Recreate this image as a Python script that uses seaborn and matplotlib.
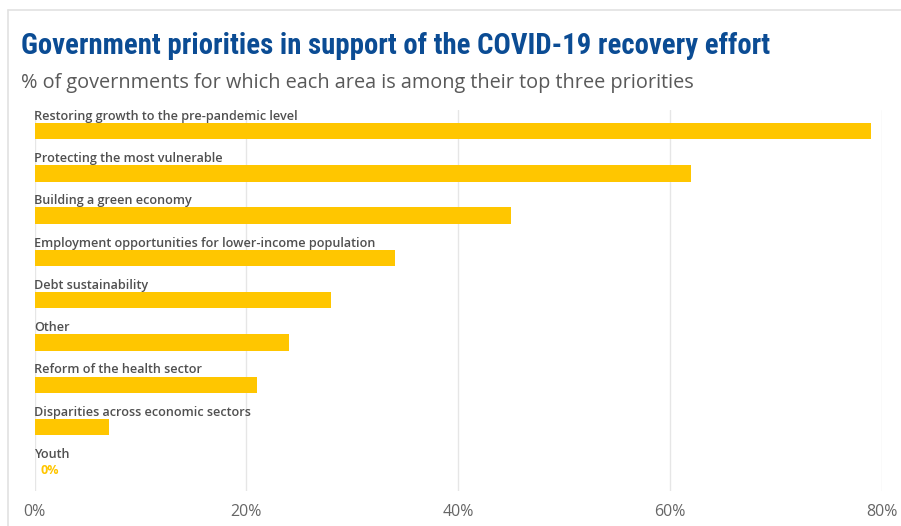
import matplotlib
matplotlib.use("Agg")
import matplotlib.pyplot as plt
from matplotlib.lines import Line2D
import pandas as pd
import seaborn as sns

# Survey results: share of governments ranking each area in their top three
categories = [
    "Restoring growth to the pre-pandemic level",
    "Protecting the most vulnerable",
    "Building a green economy",
    "Employment opportunities for lower-income population",
    "Debt sustainability",
    "Other",
    "Reform of the health sector",
    "Disparities across economic sectors",
    "Youth",
]
shares = [79, 62, 45, 34, 28, 24, 21, 7, 0]
tick_values = [0, 20, 40, 60, 80]
tick_labels = ["0%", "20%", "40%", "60%", "80%"]

TITLE = "Government priorities in support of the COVID-19 recovery effort"
SUBTITLE = "% of governments for which each area is among their top three priorities"

BAR = "#FFC600"
NAVY = "#0B4C94"
GRID = "#E6E6E6"

sns.set_theme(style="white")
plt.rcParams["font.family"] = ["Open Sans", "DejaVu Sans"]

W, H = 901, 526
fig = plt.figure(figsize=(W / 100, H / 100), dpi=100)
fig.patch.set_facecolor("white")


def fx(px):
    return px / W


def fy(py):
    return 1 - py / H


ax = fig.add_axes([fx(34.5), fy(490.5), fx(882) - fx(34.5), fy(110) - fy(490.5)])

df = pd.DataFrame({"area": categories, "share": shares})
sns.barplot(data=df, x="share", y="area", orient="h", color=BAR,
            saturation=1, width=0.39, ax=ax, edgecolor="none", zorder=3)

ax.set_xlim(0, 80)
ax.set_ylim(len(categories) - 0.5, -0.5)
ax.set_xticks(tick_values)
ax.set_xticklabels(tick_labels)
ax.set_yticks([])
ax.set_xlabel("")
ax.set_ylabel("")
for s in ax.spines.values():
    s.set_visible(False)
ax.grid(axis="x", color=GRID, linewidth=1.0, zorder=0)
ax.grid(axis="y", visible=False)
ax.tick_params(axis="x", length=0, pad=10, labelsize=11.5, labelcolor="#666666")

renderer = fig.canvas.get_renderer()

# category names sit just above their bars
labels = []
for i, (cat, val) in enumerate(zip(categories, shares)):
    labels.append(ax.text(0, i - 0.27, cat, ha="left", va="baseline",
                          fontsize=9.5, fontweight="semibold",
                          color="#505050", zorder=4))
    if val == 0:
        ax.annotate(f"{val}%", xy=(val, i), xytext=(6, -1),
                    textcoords="offset pixels", ha="left", va="center",
                    fontsize=9, fontweight="bold", color=BAR, zorder=4)

# scale category labels so the longest one spans its measured width
widest = labels[3]
scale = 344 / widest.get_window_extent(renderer).width
for t in labels:
    t.set_fontsize(t.get_fontsize() * scale)

# card border along top and left edges
fig.add_artist(Line2D([fx(8), fx(8)], [0, fy(10)], transform=fig.transFigure,
                      color="#E2E2E2", linewidth=1.2))
fig.add_artist(Line2D([fx(8), 1], [fy(10), fy(10)], transform=fig.transFigure,
                      color="#E2E2E2", linewidth=1.2))

title = fig.text(fx(21), fy(54.5), TITLE, ha="left", va="baseline",
                 fontsize=20, fontweight="bold", color=NAVY,
                 family=["DejaVu Sans Condensed", "Liberation Sans Narrow",
                         "Roboto Condensed", "DejaVu Sans"],
                 fontstretch="condensed")
subtitle = fig.text(fx(21), fy(88), SUBTITLE, ha="left", va="baseline",
                    fontsize=13, color="#595959")

# fit headline widths to the card
for txt, target in ((title, 744), (subtitle, 670)):
    w = txt.get_window_extent(renderer).width
    txt.set_fontsize(txt.get_fontsize() * target / w)

fig.savefig("out.png", dpi=100, facecolor="white")
